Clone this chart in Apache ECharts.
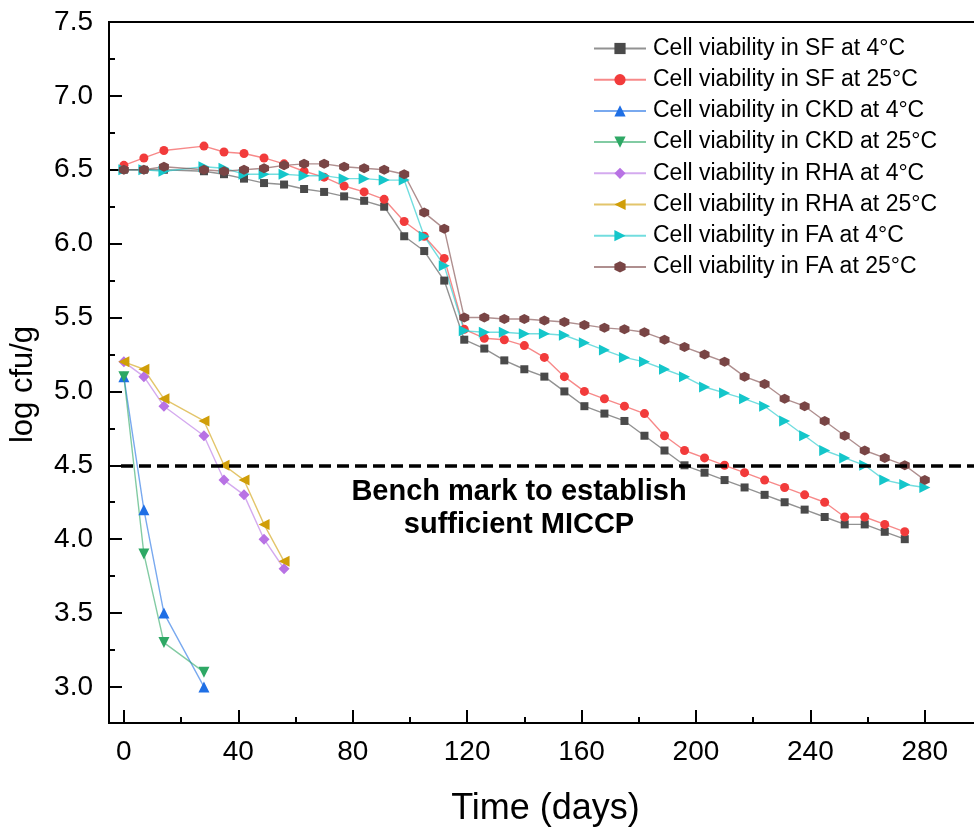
<!DOCTYPE html>
<html>
<head>
<meta charset="utf-8">
<title>Cell viability</title>
<script src="https://cdn.jsdelivr.net/npm/echarts@6/dist/echarts.min.js"></script>
<style>
  html, body { margin: 0; padding: 0; background: #fff; }
  #chart { width: 974px; height: 827px; }
</style>
</head>
<body>
<div id="chart"></div>
<script>
// sampling days (weekly, day 21 was not measured)
const daysSF = [0, 7, 14, 28, 35, 42, 49, 56, 63, 70, 77, 84, 91, 98, 105, 112, 119, 126, 133, 140, 147, 154, 161, 168, 175, 182, 189, 196, 203, 210, 217, 224, 231, 238, 245, 252, 259, 266, 273];
const daysFA = [0, 7, 14, 28, 35, 42, 49, 56, 63, 70, 77, 84, 91, 98, 105, 112, 119, 126, 133, 140, 147, 154, 161, 168, 175, 182, 189, 196, 203, 210, 217, 224, 231, 238, 245, 252, 259, 266, 273, 280];
const daysRHA = [0, 7, 14, 28, 35, 42, 49, 56];
const daysCKD = [0, 7, 14, 28];

// log cfu/g values
const sf4 = [6.50, 6.50, 6.50, 6.49, 6.47, 6.44, 6.41, 6.40, 6.37, 6.35, 6.32, 6.29, 6.25, 6.05, 5.95, 5.75, 5.35, 5.29, 5.21, 5.15, 5.10, 5.00, 4.90, 4.85, 4.80, 4.70, 4.60, 4.50, 4.45, 4.40, 4.35, 4.30, 4.25, 4.20, 4.15, 4.10, 4.10, 4.05, 4.00];
const sf25 = [6.53, 6.58, 6.63, 6.66, 6.62, 6.61, 6.58, 6.54, 6.49, 6.45, 6.39, 6.35, 6.30, 6.15, 6.05, 5.90, 5.42, 5.36, 5.35, 5.31, 5.23, 5.10, 5.00, 4.95, 4.90, 4.85, 4.70, 4.60, 4.55, 4.50, 4.45, 4.40, 4.35, 4.30, 4.25, 4.15, 4.15, 4.10, 4.05];
const ckd4 = [5.10, 4.20, 3.50, 3.00];
const ckd25 = [5.10, 3.90, 3.30, 3.10];
const rha4 = [5.20, 5.10, 4.90, 4.70, 4.40, 4.30, 4.00, 3.80];
const rha25 = [5.20, 5.15, 4.95, 4.80, 4.50, 4.40, 4.10, 3.85];
const fa4 = [6.50, 6.50, 6.49, 6.52, 6.51, 6.47, 6.47, 6.47, 6.46, 6.46, 6.44, 6.44, 6.43, 6.43, 6.05, 5.85, 5.41, 5.40, 5.40, 5.39, 5.39, 5.38, 5.33, 5.28, 5.23, 5.20, 5.15, 5.10, 5.03, 4.99, 4.95, 4.90, 4.80, 4.70, 4.60, 4.55, 4.50, 4.40, 4.37, 4.35];
const fa25 = [6.50, 6.50, 6.52, 6.50, 6.49, 6.50, 6.51, 6.53, 6.54, 6.54, 6.52, 6.51, 6.50, 6.47, 6.21, 6.10, 5.50, 5.50, 5.49, 5.49, 5.48, 5.47, 5.45, 5.43, 5.42, 5.40, 5.35, 5.30, 5.25, 5.20, 5.10, 5.05, 4.95, 4.90, 4.80, 4.70, 4.60, 4.55, 4.50, 4.40];

const benchmark = 4.5;

// tick labels
const xMajor = [0, 40, 80, 120, 160, 200, 240, 280];
const xMinor = [20, 60, 100, 140, 180, 220, 260, 300];
const yMajor = [3.0, 3.5, 4.0, 4.5, 5.0, 5.5, 6.0, 6.5, 7.0, 7.5];
const yMinor = [3.25, 3.75, 4.25, 4.75, 5.25, 5.75, 6.25, 6.75, 7.25];

const FONT = 'Arial, "Liberation Sans", sans-serif';

const zip = (xs, ys) => xs.map((x, i) => [x, ys[i]]);

function makeSeries(name, days, vals, color, symbol, size) {
    return {
        name: name,
        type: 'line',
        data: zip(days, vals),
        symbol: symbol,
        symbolSize: size,
        showAllSymbol: true,
        lineStyle: { color: color, width: 1.4, opacity: 0.6 },
        itemStyle: { color: color, opacity: 1 },
        emphasis: { disabled: true },
        z: 3
    };
}

const downTri = 'path://M0,0 L10,0 L5,9 Z';
const leftTri = 'path://M0,5 L9,0 L9,10 Z';
const rightTri = 'path://M0,0 L9,5 L0,10 Z';
const hexagon = 'path://M5,0 L9.33,2.5 L9.33,7.5 L5,10 L0.67,7.5 L0.67,2.5 Z';

const series = [
    makeSeries('Cell viability in SF at 4°C', daysSF, sf4, '#4a4a4a', 'rect', 8),
    makeSeries('Cell viability in SF at 25°C', daysSF, sf25, '#f23b3b', 'circle', 9),
    makeSeries('Cell viability in CKD at 4°C', daysCKD, ckd4, '#1f6fe5', 'triangle', 11),
    makeSeries('Cell viability in CKD at 25°C', daysCKD, ckd25, '#2ea865', downTri, 11),
    makeSeries('Cell viability in RHA at 4°C', daysRHA, rha4, '#b872e4', 'diamond', 11),
    makeSeries('Cell viability in RHA at 25°C', daysRHA, rha25, '#d09e08', leftTri, 11),
    makeSeries('Cell viability in FA at 4°C', daysFA, fa4, '#14c6ca', rightTri, 11),
    makeSeries('Cell viability in FA at 25°C', daysFA, fa25, '#794545', hexagon, 10)
];

// dashed benchmark line
series[0].markLine = {
    silent: true,
    symbol: ['none', 'none'],
    label: { show: false },
    lineStyle: { color: '#000', type: [12, 6], width: 3.5, opacity: 1 },
    data: [[{ coord: [-1, benchmark] }, { coord: [300, benchmark] }]]
};

const chart = echarts.init(document.getElementById('chart'));

chart.setOption({
    backgroundColor: '#fff',
    animation: false,
    textStyle: { fontFamily: FONT },
    grid: {
        left: 109, right: -8, top: 22, bottom: 104,
        outerBoundsMode: 'none',
        show: true, borderColor: '#000', borderWidth: 2, backgroundColor: 'transparent'
    },
    legend: {
        orient: 'vertical',
        left: 588, top: 32,
        itemWidth: 52, itemHeight: 14, itemGap: 8.2,
        textStyle: { fontSize: 23, lineHeight: 23, color: '#000', fontFamily: FONT, padding: [0, 0, 0, 2] },
        data: series.map(s => s.name)
    },
    xAxis: [
        {
            type: 'value', min: -5.2, max: 300,
            name: 'Time (days)', nameLocation: 'middle', nameGap: 68,
            nameTextStyle: { fontSize: 36, color: '#000', fontFamily: FONT },
            axisLine: { onZero: false, lineStyle: { color: '#000', width: 2 } },
            axisTick: { inside: true, length: 13, customValues: xMajor, lineStyle: { color: '#000', width: 2 } },
            axisLabel: { customValues: xMajor, fontSize: 28, color: '#000', margin: 15, fontFamily: FONT },
            splitLine: { show: false }
        },
        {
            type: 'value', min: -5.2, max: 300, position: 'bottom',
            axisLine: { show: false, onZero: false },
            axisTick: { inside: true, length: 6, customValues: xMinor, lineStyle: { color: '#000', width: 2 } },
            axisLabel: { show: false },
            splitLine: { show: false }
        }
    ],
    yAxis: [
        {
            type: 'value', min: 2.756, max: 7.5,
            name: 'log cfu/g', nameLocation: 'middle', nameGap: 70, nameRotate: 90,
            nameTextStyle: { fontSize: 31, color: '#000', fontFamily: FONT, padding: [0, 24, 0, 0] },
            axisLine: { onZero: false, lineStyle: { color: '#000', width: 2 } },
            axisTick: { inside: true, length: 13, customValues: yMajor, lineStyle: { color: '#000', width: 2 } },
            axisLabel: { customValues: yMajor, fontSize: 28, color: '#000', margin: 16, fontFamily: FONT,
                formatter: v => v.toFixed(1) },
            splitLine: { show: false }
        },
        {
            type: 'value', min: 2.756, max: 7.5, position: 'left',
            axisLine: { show: false, onZero: false },
            axisTick: { inside: true, length: 6, customValues: yMinor, lineStyle: { color: '#000', width: 2 } },
            axisLabel: { show: false },
            splitLine: { show: false }
        }
    ],
    graphic: [{
        type: 'text',
        x: 519, y: 508,
        style: {
            text: 'Bench mark to establish\nsufficient MICCP',
            font: 'bold 29px ' + FONT,
            fill: '#000',
            align: 'center',
            verticalAlign: 'middle',
            lineHeight: 33
        },
        z: 10
    }],
    series: series
});
</script>
</body>
</html>
